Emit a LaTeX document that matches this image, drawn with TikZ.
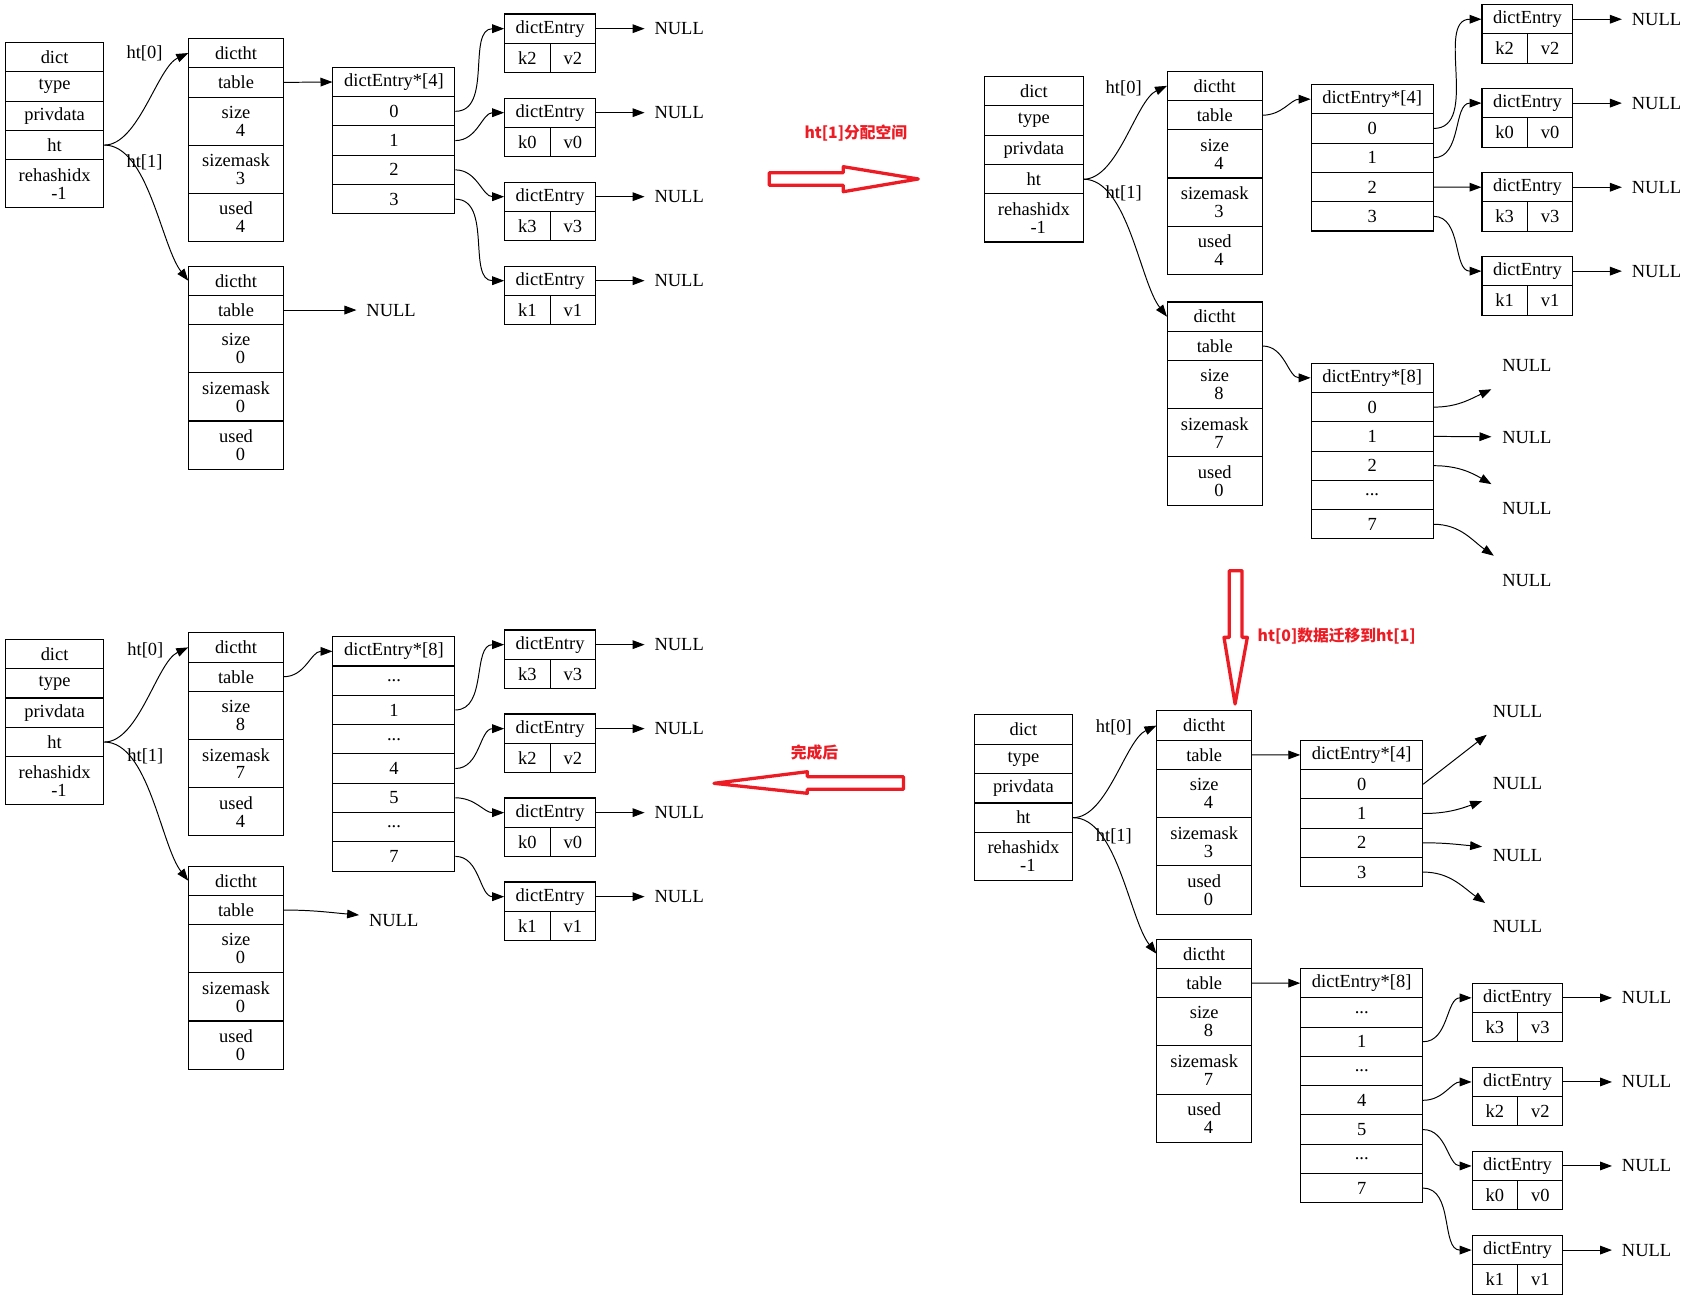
\documentclass[tikz,border=0pt]{standalone}
\usepackage{fontspec}
\setmainfont{Liberation Serif}
\newfontfamily\cjk{Noto Sans CJK SC}
\usetikzlibrary{arrows.meta}
\definecolor{redc}{HTML}{ED1C24}
\tikzset{
 cellbox/.style={draw, line width=0.95pt, rectangle, inner sep=0pt, align=center, font=\fontsize{17}{16.5}\selectfont},
 edge/.style={line width=0.9pt, -{Triangle[length=11pt,width=8pt]}},
 up/.style={out=0,in=205,looseness=0.7},
 down/.style={out=0,in=128,looseness=0.7},
 nulltxt/.style={inner xsep=9pt, inner ysep=0pt, font=\fontsize{17}{20}\selectfont},
 nullbox/.style={inner sep=0pt, font=\fontsize{17}{20}\selectfont},
 lbl/.style={inner sep=0pt, font=\fontsize{17}{20}\selectfont},
 bigarrow/.style={draw=redc, line width=3pt, line join=round},
 redtxt/.style={text=redc, font=\cjk\bfseries\fontsize{14.5}{17}\selectfont, inner sep=0pt},
}
\newcommand\dd{...}
\newcommand\mkcell[6]{\node[cellbox, minimum width={(#4)-(#2)}, minimum height={(#5)-(#3)}] (#1) at ({((#2)+(#4))/2},{((#3)+(#5))/2}) {#6};}
\newcommand\dictrec[3]{%
 \mkcell{#1-a}{#2}{#3}{#2+90.5}{#3+27}{dict}
 \mkcell{#1-b}{#2}{#3+27}{#2+90.5}{#3+54}{type}
 \mkcell{#1-c}{#2}{#3+54}{#2+90.5}{#3+81}{privdata}
 \mkcell{#1-ht}{#2}{#3+81}{#2+90.5}{#3+108}{ht}
 \mkcell{#1-e}{#2}{#3+108}{#2+90.5}{#3+152.3}{rehashidx\\\hspace*{8pt}-1}}
\newcommand\htrec[6]{%
 \mkcell{#1-a}{#2}{#3}{#2+87}{#3+27}{dictht}
 \mkcell{#1-tb}{#2}{#3+27}{#2+87}{#3+54}{table}
 \mkcell{#1-s}{#2}{#3+54}{#2+87}{#3+98.3}{size\\\hspace*{8pt}#4}
 \mkcell{#1-m}{#2}{#3+98.3}{#2+87}{#3+142.6}{sizemask\\\hspace*{8pt}#5}
 \mkcell{#1-u}{#2}{#3+142.6}{#2+87}{#3+186.9}{used\\\hspace*{8pt}#6}}
\newcommand\arrrec[5]{%
 \mkcell{#1-h}{#2}{#3}{#2+112.2}{#3+26.95}{dictEntry*[#4]}
 \foreach \lab [count=\i] in {#5} {\mkcell{#1-r\i}{#2}{#3+26.95*\i}{#2+112.2}{#3+26.95*\i+26.95}{\lab}}}
\newcommand\entrec[5]{%
 \mkcell{#1-h}{#2}{#3}{#2+83.6}{#3+27}{dictEntry}
 \mkcell{#1-k}{#2}{#3+27}{#2+41.8}{#3+54}{#4}
 \mkcell{#1-v}{#2+41.8}{#3+27}{#2+83.6}{#3+54}{#5}
 \node[nulltxt, anchor=west] (#1-n) at (#2+83.6+45.1, #3+13.5) {NULL};
 \draw[edge] (#1-h.east) -- (#1-n.west);}
\begin{document}
\begin{tikzpicture}[x=1pt,y=-1pt]
\fill[white] (0,0) rectangle (1568,1198);
\useasboundingbox (0,0) rectangle (1568,1198);

% ---------------- Panel 1 (top left)
\dictrec{p1d}{5}{39}
\htrec{p1h0}{173.7}{35.3}{4}{3}{4}
\htrec{p1h1}{173.7}{244.8}{0}{0}{0}
\arrrec{p1a}{306.4}{62}{4}{0,1,2,3}
\entrec{p1e1}{464.4}{12.9}{k2}{v2}
\entrec{p1e2}{464.4}{90.2}{k0}{v0}
\entrec{p1e3}{464.4}{167.5}{k3}{v3}
\entrec{p1e4}{464.4}{244.8}{k1}{v1}
\node[lbl] (p1l0) at (133,49) {ht[0]};
\node[lbl] (p1l1) at (133,149) {ht[1]};
\draw[edge] (p1d-ht.east) to[up] (p1h0-a.west);
\draw[edge] (p1d-ht.east) to[down] (p1h1-a.west);
\draw[edge] (p1h0-tb.east) -- (p1a-h.west);
\draw[edge] (p1a-r1.east) to[out=0,in=180] (p1e1-h.west);
\draw[edge] (p1a-r2.east) to[out=0,in=180] (p1e2-h.west);
\draw[edge] (p1a-r3.east) to[out=0,in=180] (p1e3-h.west);
\draw[edge] (p1a-r4.east) to[out=0,in=180] (p1e4-h.west);
\node[nulltxt, anchor=west] (p1n) at (328,285.3) {NULL};
\draw[edge] (p1h1-tb.east) -- (p1n.west);

% ---------------- Panel 2 (top right)
\dictrec{p2d}{906.1}{70.4}
\htrec{p2h0}{1074.3}{65.5}{4}{3}{4}
\htrec{p2h1}{1074.3}{277.9}{8}{7}{0}
\arrrec{p2a}{1206.5}{77.8}{4}{0,1,2,3}
\arrrec{p2b}{1206.5}{334.2}{8}{0,1,2,\dd,7}
\entrec{p2e1}{1363.7}{4.2}{k2}{v2}
\entrec{p2e2}{1363.7}{81.4}{k0}{v0}
\entrec{p2e3}{1363.7}{158.8}{k3}{v3}
\entrec{p2e4}{1363.7}{236}{k1}{v1}
\node[lbl] (p2l0) at (1034,81) {ht[0]};
\node[lbl] (p2l1) at (1034,178) {ht[1]};
\draw[edge] (p2d-ht.east) to[up] (p2h0-a.west);
\draw[edge] (p2d-ht.east) to[down] (p2h1-a.west);
\draw[edge] (p2h0-tb.east) to[out=0,in=180] (p2a-h.west);
\draw[edge] (p2h1-tb.east) to[out=0,in=180] (p2b-h.west);
\draw[edge] (p2a-r1.east) to[out=0,in=180] (p2e1-h.west);
\draw[edge] (p2a-r2.east) to[out=0,in=180] (p2e2-h.west);
\draw[edge] (p2a-r3.east) -- (p2e3-h.west);
\draw[edge] (p2a-r4.east) to[out=0,in=180] (p2e4-h.west);
\node[nullbox] (p2n1) at (1405,336.3) {NULL};
\node[nullbox] (p2n2) at (1405,402.2) {NULL};
\node[nullbox] (p2n3) at (1405,468.4) {NULL};
\node[nullbox] (p2n4) at (1405,534.6) {NULL};
\coordinate (p2t1) at (1372.4,358.2);
\coordinate (p2t2) at (1372.4,401.9);
\coordinate (p2t3) at (1372.4,445.5);
\coordinate (p2t4) at (1374.6,511.4);
\draw[edge] (p2b-r1.east) to[out=0,in=205] (p2t1);
\draw[edge] (p2b-r2.east) -- (p2t2);
\draw[edge] (p2b-r3.east) to[out=0,in=150] (p2t3);
\draw[edge] (p2b-r5.east) to[out=0,in=145] (p2t4);

% ---------------- Panel 3 (bottom right)
\dictrec{p3d}{896.5}{657.9}
\htrec{p3h0}{1064.6}{654.2}{4}{3}{0}
\htrec{p3h1}{1064.6}{864.1}{8}{7}{4}
\arrrec{p3a}{1196.9}{681.2}{4}{0,1,2,3}
\arrrec{p3b}{1196.9}{891.2}{8}{\dd,1,\dd,4,5,\dd,7}
\entrec{p3e1}{1354.6}{904.7}{k3}{v3}
\entrec{p3e2}{1354.6}{982.1}{k2}{v2}
\entrec{p3e3}{1354.6}{1059.4}{k0}{v0}
\entrec{p3e4}{1354.6}{1136.8}{k1}{v1}
\node[lbl] (p3l0) at (1025,669.6) {ht[0]};
\node[lbl] (p3l1) at (1025,769.2) {ht[1]};
\draw[edge] (p3d-ht.east) to[up] (p3h0-a.west);
\draw[edge] (p3d-ht.east) to[down] (p3h1-a.west);
\draw[edge] (p3h0-tb.east) -- (p3a-h.west);
\draw[edge] (p3h1-tb.east) -- (p3b-h.west);
\draw[edge] (p3b-r2.east) to[out=0,in=180] (p3e1-h.west);
\draw[edge] (p3b-r4.east) to[out=0,in=180] (p3e2-h.west);
\draw[edge] (p3b-r5.east) to[out=0,in=180] (p3e3-h.west);
\draw[edge] (p3b-r7.east) to[out=0,in=180] (p3e4-h.west);
\node[nullbox] (p3n1) at (1396.4,654.3) {NULL};
\node[nullbox] (p3n2) at (1396.4,720.6) {NULL};
\node[nullbox] (p3n3) at (1396.4,786.8) {NULL};
\node[nullbox] (p3n4) at (1396.4,852.8) {NULL};
\coordinate (p3t1) at (1368.1,676.1);
\coordinate (p3t2) at (1363.8,737.1);
\coordinate (p3t3) at (1363.8,779.1);
\coordinate (p3t4) at (1366.6,830.9);
\draw[edge] (p3a-r1.east) -- (p3t1);
\draw[edge] (p3a-r2.east) to[out=0,in=200] (p3t2);
\draw[edge] (p3a-r3.east) to[out=0,in=175] (p3t3);
\draw[edge] (p3a-r4.east) to[out=0,in=145] (p3t4);

% ---------------- Panel 4 (bottom left)
\dictrec{p4d}{5}{588.3}
\htrec{p4h0}{173.7}{582.2}{8}{7}{4}
\htrec{p4h1}{173.7}{796.9}{0}{0}{0}
\arrrec{p4a}{306.4}{585.9}{8}{\dd,1,\dd,4,5,\dd,7}
\entrec{p4e1}{464.4}{579.7}{k3}{v3}
\entrec{p4e2}{464.4}{657}{k2}{v2}
\entrec{p4e3}{464.4}{734.3}{k0}{v0}
\entrec{p4e4}{464.4}{811.6}{k1}{v1}
\node[lbl] (p4l0) at (133.8,598) {ht[0]};
\node[lbl] (p4l1) at (133.8,696.3) {ht[1]};
\draw[edge] (p4d-ht.east) to[up] (p4h0-a.west);
\draw[edge] (p4d-ht.east) to[down] (p4h1-a.west);
\draw[edge] (p4h0-tb.east) to[out=0,in=180] (p4a-h.west);
\draw[edge] (p4a-r2.east) to[out=0,in=180] (p4e1-h.west);
\draw[edge] (p4a-r4.east) to[out=0,in=180] (p4e2-h.west);
\draw[edge] (p4a-r5.east) to[out=0,in=180] (p4e3-h.west);
\draw[edge] (p4a-r7.east) to[out=0,in=180] (p4e4-h.west);
\node[nulltxt, anchor=west] (p4n) at (330.4,847.5) {NULL};
\draw[edge] (p4h1-tb.east) to[out=0,in=175] ([yshift=5.5pt]p4n.west);

% ---------------- red arrows and captions
\draw[bigarrow] (707.9,158.9) -- (776,158.9) -- (776,153.4) -- (845,164.7) -- (776,176.4) -- (776,170.5) -- (707.9,170.5) -- cycle;
\draw[bigarrow] (1131.2,525.1) -- (1142.9,525.1) -- (1142.9,586.5) -- (1147.8,586.5) -- (1136.5,647.8) -- (1126.3,586.5) -- (1131.2,586.5) -- cycle;
\draw[bigarrow] (657,720.8) -- (742.9,710.1) -- (742.9,714.7) -- (831.3,714.7) -- (831.3,726.3) -- (742.9,726.3) -- (742.9,730) -- cycle;
\node[redtxt] (c1) at (787.5,122.7) {ht[1]分配空间};
\node[redtxt] (c2) at (1230,585.3) {ht[0]数据迁移到ht[1]};
\node[redtxt] (c3) at (749.5,692.3) {完成后};
\end{tikzpicture}
\end{document}
